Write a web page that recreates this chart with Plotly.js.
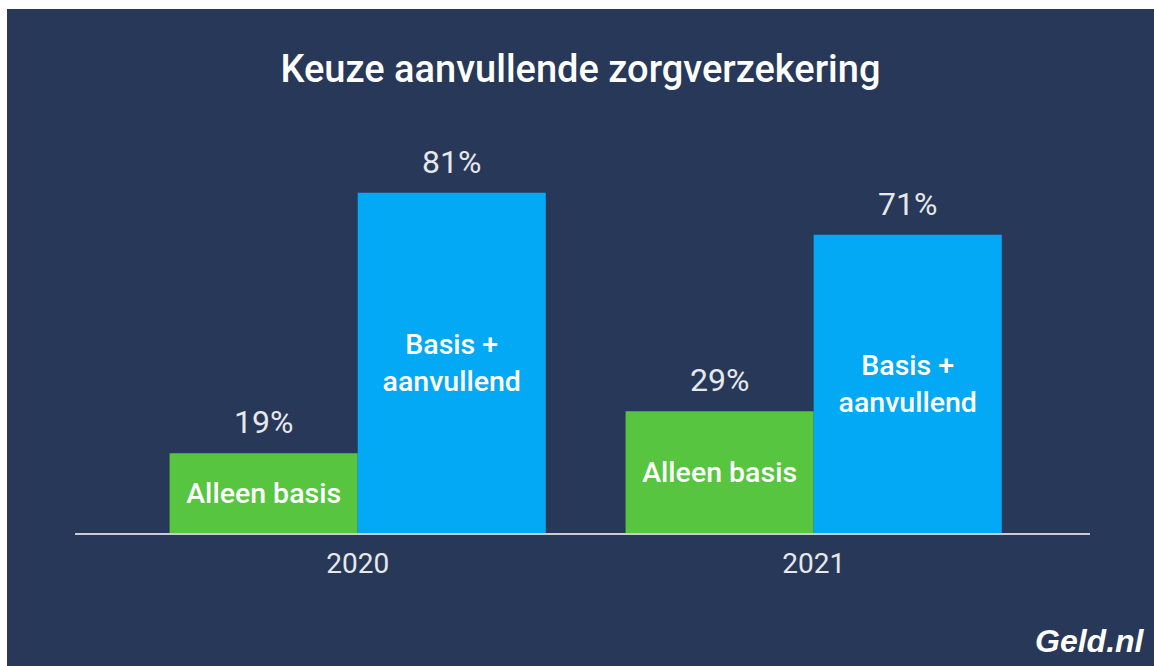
<!DOCTYPE html>
<html>
<head>
<meta charset="utf-8">
<script src="https://cdn.plot.ly/plotly-3.0.1.min.js"></script>
<style>
  html, body { margin: 0; padding: 0; background: #ffffff; width: 1154px; height: 666px; overflow: hidden; }
  #chart { position: absolute; left: 7px; top: 9px; width: 1147px; height: 657px; }
</style>
</head>
<body>
<div id="chart"></div>
<script>
// ---- data ----
const categories = ['2020', '2021'];
const alleenBasis = [19, 29];
const basisAanvullend = [81, 71];
const seriesNames = ['Alleen basis', 'Basis + aanvullend'];
const insideLabels = ['Alleen basis', 'Basis +<br>aanvullend'];
const chartTitle = 'Keuze aanvullende zorgverzekering';
const brand = 'Geld.nl';

// ---- style ----
const bg = '#283858';
const green = '#57c540';
const blue = '#03a9f4';
const bargap = 0.175;
const halfOffset = (1 - bargap) / 4;

function barTrace(values, color, label, name) {
  return {
    type: 'bar',
    x: categories,
    y: values,
    name: name,
    marker: { color: color, line: { width: 0 } },
    text: values.map(() => label),
    textposition: 'inside',
    insidetextanchor: 'middle',
    constraintext: 'none',
    textangle: 0,
    insidetextfont: { family: 'Roboto', size: 28.5, color: '#ffffff', weight: 500 },
    hoverinfo: 'none'
  };
}

const data = [
  barTrace(alleenBasis, green, insideLabels[0], seriesNames[0]),
  barTrace(basisAanvullend, blue, insideLabels[1], seriesNames[1])
];

const annotations = [];
[alleenBasis, basisAanvullend].forEach((vals, s) => {
  vals.forEach((v, i) => {
    annotations.push({
      xref: 'x', yref: 'y',
      x: i + (s === 0 ? -halfOffset : halfOffset),
      y: v,
      text: v + '%',
      showarrow: false,
      yanchor: 'bottom',
      yshift: 10,
      font: { family: 'Roboto', size: 32, color: '#e6e8ec' }
    });
  });
});
annotations.push({
  xref: 'paper', yref: 'paper',
  x: 1.056, y: -0.305,
  xanchor: 'right', yanchor: 'bottom',
  text: '<b><i>' + brand + '</i></b>',
  showarrow: false,
  font: { family: 'Liberation Sans', size: 32, color: '#ffffff' }
});

const layout = {
  width: 1147,
  height: 657,
  paper_bgcolor: bg,
  plot_bgcolor: bg,
  margin: { l: 68, r: 64, t: 104, b: 133 },
  title: {
    text: chartTitle,
    x: 0.5, xanchor: 'center',
    y: 1 - 60 / 657, yanchor: 'middle',
    font: { family: 'Roboto', size: 38, color: '#ffffff', weight: 500 }
  },
  barmode: 'group',
  bargap: bargap,
  bargroupgap: 0,
  showlegend: false,
  xaxis: {
    type: 'category',
    range: [-0.62, 1.606],
    showgrid: false,
    zeroline: false,
    showline: true,
    linecolor: '#c9ccd3',
    linewidth: 2,
    ticks: '',
    ticklabelstandoff: 4,
    tickfont: { family: 'Roboto', size: 28, color: '#e6e8ec' },
    fixedrange: true
  },
  yaxis: {
    range: [0, 100],
    visible: false,
    showgrid: false,
    zeroline: false,
    fixedrange: true
  },
  annotations: annotations
};

Plotly.newPlot('chart', data, layout, { displayModeBar: false, staticPlot: true });
</script>
</body>
</html>
